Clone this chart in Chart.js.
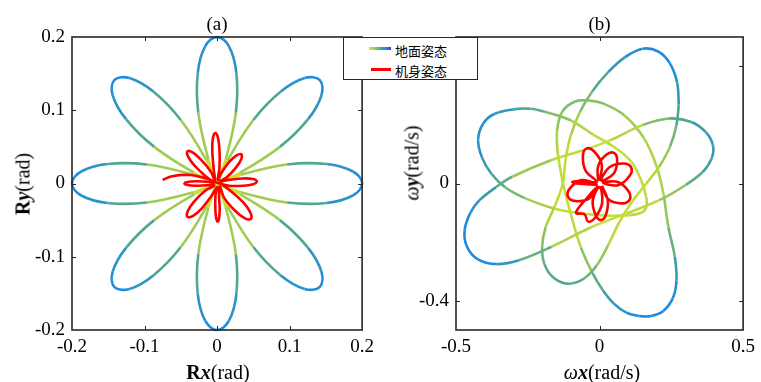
<!DOCTYPE html>
<html>
<head>
<meta charset="utf-8">
<script src="https://cdn.jsdelivr.net/npm/chart.js@4.4.1/dist/chart.umd.min.js"></script>
<style>
  body { margin: 0; background: #fff; }
  #wrap { position: relative; width: 761px; height: 382px; overflow: hidden; }
  canvas { position: absolute; top: 0; }
  #chartA { left: 0; }
  #chartB { left: 380px; }
  .lab { position: absolute; font-family: 'Liberation Serif', serif; font-size: 20px; color: #000; white-space: nowrap; transform: translate(-50%, -50%); }
  .rot { transform: translate(-50%, -50%) rotate(-90deg); }
  #legend { position: absolute; left: 343px; top: 37px; width: 135px; height: 43px; border: 1.5px solid #262626; background: #fff; box-sizing: border-box; z-index: 5; }
  #legend .sw { position: absolute; height: 3px; }
  #legend .txt { position: absolute; left: 51px; font-family: 'Noto Sans CJK SC', sans-serif; font-size: 13px; line-height: 16px; color: #000; }
</style>
</head>
<body>
<div id="wrap">
  <canvas id="chartA" width="380" height="382"></canvas>
  <canvas id="chartB" width="381" height="382"></canvas>
  <div class="lab rot" style="left:23px; top:184px;"><b>R</b><b><i>y</i></b>(rad)</div>
  <div class="lab" style="left:218px; top:372px;"><b>R</b><b><i>x</i></b>(rad)</div>
  <div class="lab rot" style="left:412px; top:163px;"><i>ω</i><b><i>y</i></b>(rad/s)</div>
  <div class="lab" style="left:602px; top:372px;"><i>ω</i><b><i>x</i></b>(rad/s)</div>
  <div id="legend">
    <span class="sw" style="left:25px; top:9px; width:22px; background:linear-gradient(90deg,#f2d930,#9ccf55,#40b0a8,#2a8ae0,#3a3ad0);"></span>
    <span class="txt" style="top:5px;">地面姿态</span>
    <span class="sw" style="left:27px; top:30px; width:20px; background:#ff0000;"></span>
    <span class="txt" style="top:25px;">机身姿态</span>
  </div>
</div>
<script>
// ---- panel (a): ground attitude, 8 petals, one row per petal
const roseX = [0,
  0.0326, 0.0966, 0.1509, 0.1872, 0.2, 0.1872, 0.1509, 0.0966, 0.0326, 0,
  0.0315, 0.0866, 0.1255, 0.1440, 0.1414, 0.1208, 0.0879, 0.0500, 0.0146, 0,
  0.0119, 0.0259, 0.0266, 0.0164, 0, -0.0164, -0.0266, -0.0259, -0.0119, 0,
  -0.0146, -0.0500, -0.0879, -0.1208, -0.1414, -0.1440, -0.1255, -0.0866, -0.0315, 0,
  -0.0326, -0.0966, -0.1509, -0.1872, -0.2, -0.1872, -0.1509, -0.0966, -0.0326, 0,
  -0.0315, -0.0866, -0.1255, -0.1440, -0.1414, -0.1208, -0.0879, -0.0500, -0.0146, 0,
  -0.0119, -0.0259, -0.0266, -0.0164, 0, 0.0164, 0.0266, 0.0259, 0.0119, 0,
  0.0146, 0.0500, 0.0879, 0.1208, 0.1414, 0.1440, 0.1255, 0.0866, 0.0315, 0]
const roseY = [0,
  -0.0119, -0.0259, -0.0266, -0.0164, 0, 0.0164, 0.0266, 0.0259, 0.0119, 0,
  0.0146, 0.0500, 0.0879, 0.1208, 0.1414, 0.1440, 0.1255, 0.0866, 0.0315, 0,
  0.0326, 0.0966, 0.1509, 0.1872, 0.2, 0.1872, 0.1509, 0.0966, 0.0326, 0,
  0.0315, 0.0866, 0.1255, 0.1440, 0.1414, 0.1208, 0.0879, 0.0500, 0.0146, 0,
  0.0119, 0.0259, 0.0266, 0.0164, 0, -0.0164, -0.0266, -0.0259, -0.0119, 0,
  -0.0146, -0.0500, -0.0879, -0.1208, -0.1414, -0.1440, -0.1255, -0.0866, -0.0315, 0,
  -0.0326, -0.0966, -0.1509, -0.1872, -0.2, -0.1872, -0.1509, -0.0966, -0.0326, 0,
  -0.0315, -0.0866, -0.1255, -0.1440, -0.1414, -0.1208, -0.0879, -0.0500, -0.0146, 0]

// panel (a): body attitude (red)
const bodyAX = [-0.075, -0.062, -0.038, -0.015, 0.0,
  0.0167, 0.0360, 0.0496, 0.0549, 0.0492, 0.0354, 0.0163, 0.004,
  0.0137, 0.0263, 0.0333, 0.0334, 0.0269, 0.0171, 0.0063, 0.001,
  0.0033, 0.0034, 0.0013, -0.0024, -0.0057, -0.0066, -0.0047, -0.003,
  -0.0088, -0.0222, -0.0337, -0.0409, -0.0399, -0.0310, -0.0158, -0.005,
  -0.0135, -0.0293, -0.0405, -0.045, -0.0405, -0.0293, -0.0135, -0.004,
  -0.0164, -0.0317, -0.0403, -0.0408, -0.0331, -0.0213, -0.0080, 0.0,
  -0.0021, -0.0024, -0.0013, 0.0009, 0.0029, 0.0036, 0.0027, 0.004,
  0.0094, 0.0245, 0.0379, 0.0465, 0.0459, 0.0361, 0.0186, 0.005]
const bodyAY = [0.005, 0.010, 0.0116, 0.007, 0.001,
  -0.0031, -0.0031, -0.0009, 0.0029, 0.0061, 0.0069, 0.0049, 0.003,
  0.0088, 0.0220, 0.0331, 0.0398, 0.0385, 0.0298, 0.0150, 0.005,
  0.0208, 0.0450, 0.0622, 0.0690, 0.0620, 0.0446, 0.0206, 0.004,
  0.0165, 0.0326, 0.0424, 0.0439, 0.0366, 0.0244, 0.0099, 0.001,
  0.0024, 0.0030, 0.0021, 0, -0.0021, -0.0030, -0.0024, -0.003,
  -0.0099, -0.0248, -0.0375, -0.0453, -0.0441, -0.0342, -0.0173, -0.005,
  -0.0156, -0.0339, -0.0468, -0.0520, -0.0468, -0.0337, -0.0156, -0.004,
  -0.0189, -0.0369, -0.0473, -0.0482, -0.0395, -0.0257, -0.0101, 0.0]

// ---- panel (b): ground attitude, four loops
const loopHorizX = [-0.053, 0.038, 0.151, 0.242, 0.32, 0.37, 0.395, 0.39, 0.36, 0.3, 0.208, 0.094, -0.031, -0.167, -0.281, -0.36, -0.425, -0.462, -0.47, -0.45, -0.418, -0.36, -0.304, -0.167, -0.053]
const loopHorizY = [0.114, 0.148, 0.2, 0.222, 0.21, 0.175, 0.13, 0.085, 0.04, -0.005, -0.057, -0.102, -0.15, -0.216, -0.262, -0.275, -0.258, -0.215, -0.16, -0.1, -0.057, -0.012, 0.023, 0.08, 0.114]
const loopLeftX = [-0.19, -0.1, -0.022, 0.05, 0.11, 0.145, 0.162, 0.163, 0.145, 0.1, 0.04, -0.046, -0.159, -0.26, -0.33, -0.378, -0.41, -0.423, -0.405, -0.365, -0.3, -0.24, -0.19]
const loopLeftY = [0.245, 0.215, 0.167, 0.125, 0.075, 0.01, -0.045, -0.08, -0.1, -0.108, -0.11, -0.104, -0.085, -0.05, -0.012, 0.035, 0.09, 0.15, 0.205, 0.238, 0.253, 0.255, 0.245]
const loopTopX = [0.276, 0.268, 0.245, 0.208, 0.163, 0.115, 0.07, 0.03, -0.01, -0.055, -0.11, -0.16, -0.192, -0.2, -0.188, -0.155, -0.128, -0.118, -0.1, -0.068, -0.025, 0.03, 0.09, 0.15, 0.205, 0.245, 0.27, 0.276]
const loopTopY = [0.27, 0.2, 0.125, 0.058, 0.0, -0.06, -0.13, -0.21, -0.28, -0.325, -0.342, -0.322, -0.275, -0.215, -0.15, -0.075, 0.0, 0.085, 0.165, 0.245, 0.315, 0.38, 0.432, 0.46, 0.45, 0.41, 0.345, 0.27]
const loopBottomX = [0.224, 0.24, 0.262, 0.268, 0.255, 0.222, 0.18, 0.138, 0.092, 0.05, 0.012, -0.025, -0.065, -0.1, -0.127, -0.145, -0.148, -0.13, -0.085, -0.035, 0.015, 0.087, 0.155, 0.2, 0.224]
const loopBottomY = [-0.041, -0.15, -0.25, -0.33, -0.392, -0.435, -0.452, -0.452, -0.44, -0.41, -0.365, -0.305, -0.218, -0.105, 0.0, 0.1, 0.18, 0.245, 0.28, 0.283, 0.272, 0.232, 0.154, 0.055, -0.041]

// panel (b): body attitude (red)
const bodyBX = [0.008,
  0.0314, 0.0782, 0.1050, 0.1002, 0.0630, 0.012,
  0.0647, 0.1042, 0.1100, 0.0828, 0.0343, 0.006,
  0.0496, 0.0614, 0.0499, 0.0234, -0.0046, -0.003,
  0.0078, -0.0186, -0.0450, -0.0580, -0.0484, -0.01,
  -0.0425, -0.081, -0.095, -0.081, -0.043, -0.01,
  -0.0624, -0.1027, -0.1103, -0.0849, -0.0370, -0.008,
  -0.0447, -0.082, -0.0525, -0.0398, -0.0151, 0.0089, 0.0,
  -0.0237, -0.0139, 0.0050, 0.0225, 0.0283, 0.008]
const bodyBY = [-0.008,
  -0.0548, -0.0678, -0.0549, -0.0256, 0.0054, 0.002,
  -0.0056, 0.0255, 0.0551, 0.0681, 0.0552, 0.01,
  0.0342, 0.0800, 0.1047, 0.0980, 0.0600, 0.012,
  0.0645, 0.1092, 0.1198, 0.0944, 0.0433, 0.006,
  0.0062, 0.0076, 0.005, 0.0, -0.002, -0.004,
  0.0114, -0.0158, -0.0446, -0.0600, -0.0516, -0.012,
  -0.0503, -0.1, -0.1048, -0.1301, -0.1162, -0.0667, -0.012,
  -0.0572, -0.1069, -0.1249, -0.1055, -0.0552, -0.008]

// tick values
const aTicks = [-0.2, -0.1, 0, 0.1, 0.2]
const bXTicks = [-0.5, 0, 0.5]
const bYTicks = [-0.4, 0, 0.4]

function pts(xs, ys) {
  return xs.map((x, i) => ({ x: x, y: ys[i] }))
}

// colour ramp: yellow-green near centre -> blue far out
const ramp = [[0, [210, 228, 45]], [0.25, [185, 215, 65]], [0.5, [115, 182, 118]], [0.7, [65, 160, 160]], [0.88, [40, 145, 205]], [1, [28, 138, 228]]]
function rampColor(f) {
  f = Math.max(0, Math.min(1, f))
  for (let i = 1; i < ramp.length; i++) {
    if (f <= ramp[i][0]) {
      const [f0, c0] = ramp[i - 1], [f1, c1] = ramp[i]
      const t = (f - f0) / (f1 - f0)
      const c = c0.map((v, k) => Math.round(v + (c1[k] - v) * t))
      return `rgb(${c[0]},${c[1]},${c[2]})`
    }
  }
  return 'rgb(28,138,228)'
}
function segColor(rmax, pow) {
  return (ctx) => {
    const a = ctx.p0.parsed, b = ctx.p1.parsed
    const r = Math.hypot((a.x + b.x) / 2, (a.y + b.y) / 2) / rmax
    return rampColor(Math.pow(r, pow))
  }
}

// box with inward tick marks, MATLAB style
const frame = {
  id: 'frame',
  afterDatasetsDraw(chart) {
    const { ctx, chartArea: a, scales: { x, y } } = chart
    ctx.save()
    ctx.strokeStyle = '#262626'
    ctx.lineWidth = 1
    ctx.beginPath()
    x.ticks.forEach((t) => {
      const p = Math.round(x.getPixelForValue(t.value)) + 0.5
      if (p < a.left + 2 || p > a.right - 2) return
      ctx.moveTo(p, a.bottom); ctx.lineTo(p, a.bottom - 4)
      ctx.moveTo(p, a.top); ctx.lineTo(p, a.top + 4)
    })
    y.ticks.forEach((t) => {
      const p = Math.round(y.getPixelForValue(t.value)) + 0.5
      if (p < a.top + 2 || p > a.bottom - 2) return
      ctx.moveTo(a.left, p); ctx.lineTo(a.left + 4, p)
      ctx.moveTo(a.right, p); ctx.lineTo(a.right - 4, p)
    })
    ctx.stroke()
    ctx.lineWidth = 1.6
    ctx.strokeRect(a.left, a.top, a.right - a.left, a.bottom - a.top)
    ctx.restore()
  },
}

const tickFont = { family: 'Liberation Serif', size: 19 }
const fmt = (v) => (Math.abs(v) < 1e-9 ? '0' : String(v))

function axis(min, max, ticks, size, isX, pad) {
  return {
    type: 'linear', min: min, max: max,
    grid: { display: false, drawTicks: false },
    border: { display: false },
    ticks: { color: '#000', font: tickFont, padding: pad, callback: fmt, maxRotation: 0, autoSkip: false },
    afterBuildTicks: (s) => { s.ticks = ticks.map((v) => ({ value: v })) },
    afterFit: (s) => { if (isX) { s.height = size } else { s.width = size } },
  }
}

function options(title, rightPad, xs, ys) {
  return {
    responsive: false,
    animation: false,
    events: [],
    layout: { padding: { left: 0, right: rightPad, top: 0, bottom: 0 } },
    plugins: {
      legend: { display: false },
      tooltip: { enabled: false },
      title: { display: true, text: title, fullSize: false, color: '#000', font: { family: 'Liberation Serif', size: 19, weight: 'normal', lineHeight: 1 }, padding: { top: 15.5, bottom: 2.5 } },
    },
    scales: { x: xs, y: ys },
  }
}

const line = { showLine: true, pointRadius: 0, tension: 0.38, clip: 4 }

new Chart(document.getElementById('chartA'), {
  type: 'scatter',
  data: {
    datasets: [
      Object.assign({ data: pts(bodyAX, bodyAY), borderColor: '#ff0000', borderWidth: 2.6 }, line),
      Object.assign({ data: pts(roseX, roseY), borderWidth: 2.6, borderColor: '#3a9ad0', segment: { borderColor: segColor(0.2, 1) } }, line),
    ],
  },
  options: options('(a)', 16, axis(-0.2, 0.2, aTicks, 52, true, 6), axis(-0.2, 0.2, aTicks, 72, false, 7)),
  plugins: [frame],
})

const groundB = [[loopHorizX, loopHorizY], [loopLeftX, loopLeftY], [loopTopX, loopTopY], [loopBottomX, loopBottomY]]
new Chart(document.getElementById('chartB'), {
  type: 'scatter',
  data: {
    datasets: [Object.assign({ data: pts(bodyBX, bodyBY), borderColor: '#ff0000', borderWidth: 2.6 }, line)].concat(
      groundB.map(([xs, ys]) => Object.assign({ data: pts(xs, ys), borderWidth: 2.6, borderColor: '#3a9ad0', segment: { borderColor: segColor(0.48, 1.5) } }, line))
    ),
  },
  options: options('(b)', 12, axis(-0.5, 0.5, bXTicks, 52, true, 6), axis(-0.5, 0.5, bYTicks, 76, false, 7)),
  plugins: [frame],
})
</script>
</body>
</html>
